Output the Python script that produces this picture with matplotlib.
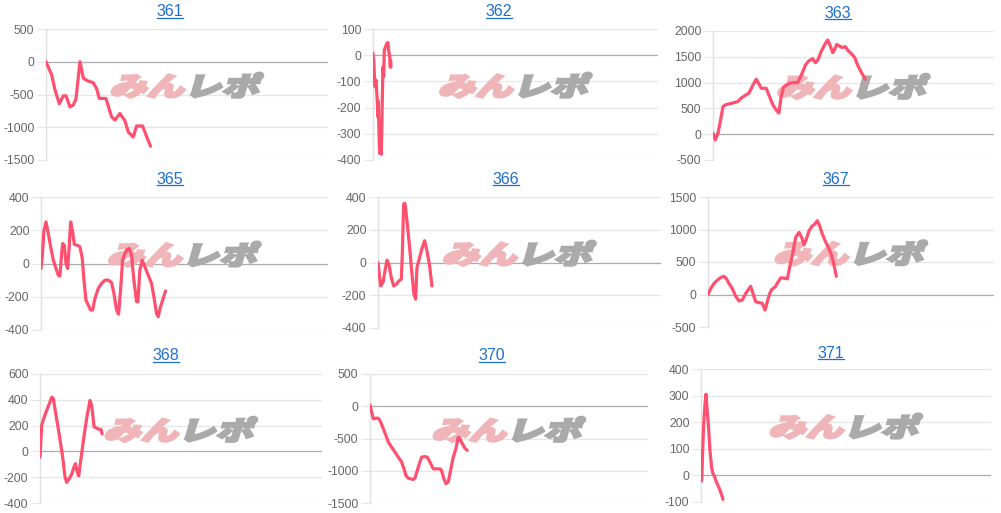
import matplotlib
matplotlib.use("Agg")
import matplotlib.pyplot as plt
from matplotlib.textpath import TextPath
from matplotlib.patches import PathPatch
from matplotlib.font_manager import FontProperties
from matplotlib.transforms import Affine2D
from matplotlib.lines import Line2D
import math

# ---------------- data (x: position along the unlabeled game axis) ----------------
names = ["361", "362", "363", "365", "366", "367", "368", "370", "371"]

x361 = [0, 17, 27, 40, 52, 60, 72, 82, 90, 102, 112, 124, 142, 152, 160, 180, 197, 207, 222, 237, 247, 262, 272, 290, 302, 314]
y361 = [0, -200, -430, -640, -520, -520, -690, -660, -570, 0, -250, -290, -320, -410, -560, -560, -840, -890, -790, -900, -1070, -1150, -980, -980, -1140, -1290]
span361 = 847
ticks361 = [-1500, -1000, -500, 0, 500]

x362 = [0, 2, 4, 6, 9, 12, 15, 16, 18, 20, 23, 25, 27, 30, 32, 34, 38, 42, 45, 47, 50, 52, 53, 54]
y362 = [8, -18, -70, -120, -95, -158, -235, -175, -300, -375, -325, -378, -235, -45, -82, 20, 33, 46, 48, 20, -5, -45, -20, -45]
span362 = 857
ticks362 = [-400, -300, -200, -100, 0, 100]

x363 = [0, 7, 15, 23, 30, 38, 50, 65, 75, 85, 95, 108, 118, 130, 138, 145, 160, 170, 180, 190, 198, 205, 212, 225, 240, 255,
        262, 270, 278, 288, 300, 308, 315, 325, 338, 345, 352, 360, 365, 372, 380, 388, 398, 405, 415, 425, 435, 445, 458]
y363 = [20, -110, 20, 280, 535, 570, 590, 615, 635, 700, 745, 795, 925, 1065, 975, 890, 890, 730, 570, 470, 410, 730, 910, 975, 1000, 1000,
        1100, 1210, 1340, 1420, 1465, 1385, 1435, 1600, 1760, 1825, 1725, 1580, 1630, 1740, 1710, 1680, 1695, 1630, 1565, 1500, 1340, 1210, 1065]
span363 = 845
ticks363 = [-500, 0, 500, 1000, 1500, 2000]

x365 = [0, 4, 9, 15, 22, 29, 37, 45, 52, 57, 62, 65, 70, 75, 80, 84, 89, 95, 100, 109, 117, 124, 129, 135, 142, 149, 155, 162, 172, 182,
        192, 202, 212, 219, 227, 233, 239, 245, 252, 259, 265, 272, 279, 287, 291, 297, 304, 312, 322, 332, 339, 347, 352, 359, 367, 374]
y365 = [-30, 50, 200, 250, 180, 100, 20, -30, -70, -76, 60, 120, 110, 0, -30, 80, 250, 190, 115, 110, 100, 30, -100, -220, -250, -280, -280, -210, -150, -120,
        -100, -100, -115, -180, -280, -305, -160, 20, 60, 85, 90, 50, -100, -230, -230, -40, 20, -20, -70, -120, -200, -300, -320, -260, -210, -165]
span365 = 862
ticks365 = [-400, -200, 0, 200, 400]

x366 = [0, 8, 15, 22, 27, 33, 40, 47, 55, 63, 70, 73, 77, 81, 87, 95, 102, 108, 113, 117, 125, 133, 140, 147, 155, 162]
y366 = [0, -143, -122, -40, 14, -14, -92, -143, -133, -112, -102, 51, 357, 361, 255, 92, -71, -194, -224, -31, 31, 92, 133, 71, -20, -143]
span366 = 850
ticks366 = [-400, -200, 0, 200, 400]

x367 = [0, 8, 18, 28, 38, 48, 55, 63, 73, 83, 93, 103, 113, 123, 128, 135, 143, 153, 163, 171, 178, 185, 191, 201, 210, 218, 225,
        238, 245, 253, 263, 273, 281, 288, 295, 303, 313, 321, 328, 335, 343, 351, 361, 371, 378, 385]
y367 = [0, 90, 170, 220, 260, 280, 245, 170, 90, -25, -100, -85, 15, 90, 125, 15, -110, -125, -135, -240, -110, 15, 75, 115, 190, 255, 255,
        240, 420, 600, 880, 955, 880, 765, 850, 980, 1055, 1085, 1135, 1055, 930, 830, 725, 600, 450, 280]
span367 = 858
ticks367 = [-500, 0, 500, 1000, 1500]

x368 = [0, 5, 10, 18, 28, 35, 40, 48, 58, 68, 75, 80, 88, 95, 102, 106, 110, 116, 120, 128, 135, 142, 150, 155, 162, 170, 178, 183, 186]
y368 = [-45, 200, 245, 305, 370, 420, 408, 280, 125, -45, -200, -240, -210, -175, -120, -95, -145, -190, -110, 45, 175, 290, 395, 355, 190, 180, 170, 170, 135]
span368 = 845
ticks368 = [-400, -200, 0, 200, 400, 600]

x370 = [0, 5, 10, 18, 25, 32, 40, 48, 55, 65, 75, 85, 95, 102, 108, 115, 122, 130, 135, 142, 150, 155, 165, 172, 180, 190, 200, 210,
        215, 222, 228, 235, 242, 250, 258, 265, 270, 278, 285, 292]
y370 = [20, -90, -195, -185, -185, -245, -350, -455, -555, -635, -710, -790, -865, -970, -1075, -1115, -1125, -1135, -1115, -995, -865, -790, -780, -790, -865, -970, -970, -970,
        -995, -1125, -1200, -1175, -995, -790, -660, -480, -505, -585, -650, -685]
span370 = 835
ticks370 = [-1500, -1000, -500, 0, 500]

x371 = [2, 5, 8, 12, 15, 18, 22, 27, 32, 35, 40, 45, 52, 58, 63, 66]
y371 = [-21, 92, 192, 268, 305, 255, 192, 92, 29, 10, -3, -21, -40, -59, -78, -90]
span371 = 870
ticks371 = [-100, 0, 100, 200, 300, 400]

series = {
    "361": (x361, y361, span361, ticks361),
    "362": (x362, y362, span362, ticks362),
    "363": (x363, y363, span363, ticks363),
    "365": (x365, y365, span365, ticks365),
    "366": (x366, y366, span366, ticks366),
    "367": (x367, y367, span367, ticks367),
    "368": (x368, y368, span368, ticks368),
    "370": (x370, y370, span370, ticks370),
    "371": (x371, y371, span371, ticks371),
}

# ---------------- layout (pixels: left, top, right, bottom ; title centre x, baseline y) ----------------
W, H = 1001, 513
boxes = {
    "361": (46, 29, 328, 160), "362": (373, 29, 658, 160), "363": (713, 31, 994, 160),
    "365": (41, 197, 328, 330), "366": (378, 197, 661, 328), "367": (708, 197, 994, 327),
    "368": (40, 374, 322, 503), "370": (370, 374, 648, 503), "371": (701, 369, 991, 502),
}
titles = {
    "361": (170, 16), "362": (499, 16), "363": (838, 17.5),
    "365": (170, 183.5), "366": (506, 183.5), "367": (836, 183.5),
    "368": (166, 360), "370": (492, 360), "371": (831, 357.5),
}

LINE = "#ff5070"
GRID = "#e6e6e6"
ZERO = "#acacac"
AXIS = "#e0e0e0"
TICKLBL = "#666666"
LINK = "#1f6fd1"
WM_PINK = "#f0b5b9"
WM_GRAY = "#aaaaaa"

plt.rcParams["font.family"] = ["Liberation Sans", "DejaVu Sans"]

fig = plt.figure(figsize=(W / 100, H / 100), dpi=100)
fig.patch.set_facecolor("white")

wm_fp = FontProperties(family="Noto Sans CJK JP", weight="heavy")
wm_size = 40
p1 = TextPath((0, 0), "みん", size=wm_size, prop=wm_fp)
p2 = TextPath((2.0 * wm_size, 0), "レポ", size=wm_size, prop=wm_fp)
e1 = p1.get_extents()
e2 = p2.get_extents()
bx0 = min(e1.x0, e2.x0); bx1 = max(e1.x1, e2.x1)
by0 = min(e1.y0, e2.y0); by1 = max(e1.y1, e2.y1)
wm_h = 25.0
wm_w = 154.0
shear = math.tan(math.radians(16))
sx = (wm_w - wm_h * shear) / (bx1 - bx0)
sy = wm_h / (by1 - by0)

title_texts = []
for name in names:
    xs, ys, span, ticks = series[name]
    L, T, R, B = boxes[name]
    ax = fig.add_axes([L / W, 1 - B / H, (R - L) / W, (B - T) / H])
    ax.set_facecolor("none")
    ax.plot(xs, ys, color=LINE, lw=2.3, zorder=4, solid_joinstyle="round", solid_capstyle="round")
    ax.set_xlim(0, span)
    ax.set_ylim(ticks[0], ticks[-1])
    ax.set_yticks(ticks)
    ax.set_yticklabels([str(t) for t in ticks])
    ax.set_xticks([])
    for s in ("top", "right", "bottom"):
        ax.spines[s].set_visible(False)
    ax.spines["left"].set_color(AXIS)
    ax.spines["left"].set_linewidth(1.0)
    ax.tick_params(axis="y", length=6.5, width=0.8, color=GRID, labelcolor=TICKLBL, labelsize=8.7, pad=1.8)
    ax.grid(axis="y", color=GRID, lw=0.9, zorder=1)
    ax.set_axisbelow(True)
    for t, tk in zip(ticks, ax.yaxis.get_major_ticks()):
        if t == 0:
            tk.tick1line.set_color(ZERO)
            tk.gridline.set_color(ZERO)

    # watermark
    cx = (L + R) / 2.0
    cy = H - (T + 0.43 * (B - T))
    tr = (Affine2D().translate(-(bx0 + bx1) / 2.0, -(by0 + by1) / 2.0)
          .scale(sx, sy).skew(math.radians(16), 0).translate(cx, cy))
    pp1 = PathPatch(p1, facecolor=WM_PINK, edgecolor=WM_PINK, lw=1.8, joinstyle="miter",
                    transform=tr, zorder=2, clip_on=False)
    pp2 = PathPatch(p2, facecolor=WM_GRAY, edgecolor=WM_GRAY, lw=1.8, joinstyle="miter",
                    transform=tr, zorder=2, clip_on=False)
    ax.add_artist(pp1)
    ax.add_artist(pp2)

    tx, tb = titles[name]
    tt = fig.text(tx / W, 1 - tb / H, name, ha="center", va="baseline", fontsize=11.5, color=LINK)
    title_texts.append((tt, tb))

fig.canvas.draw()
for tt, tb in title_texts:
    bb = tt.get_window_extent()
    uy = 1 - (tb + 1.8) / H
    fig.add_artist(Line2D([bb.x0 / W, bb.x1 / W], [uy, uy], transform=fig.transFigure, color=LINK, lw=0.9))

fig.savefig("out.png", dpi=100, facecolor="white")
